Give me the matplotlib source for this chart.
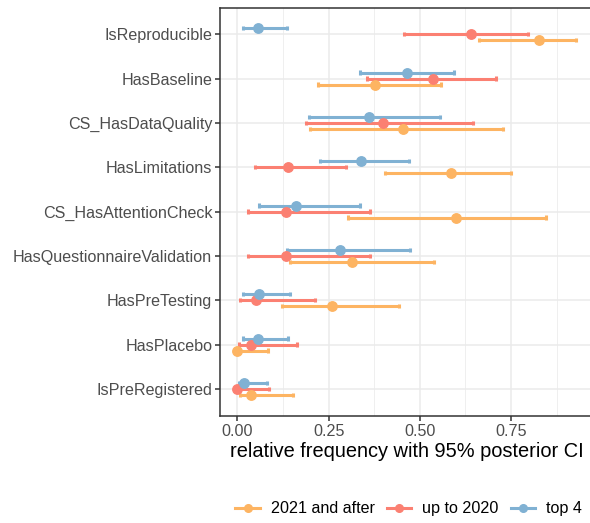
import numpy as np
import matplotlib.pyplot as plt
from matplotlib.lines import Line2D

plt.rcParams['font.family'] = ['Liberation Sans', 'DejaVu Sans']

# Categories listed from bottom to top
features = ['IsPreRegistered', 'HasPlacebo', 'HasPreTesting',
            'HasQuestionnaireValidation', 'CS_HasAttentionCheck',
            'HasLimitations', 'CS_HasDataQuality', 'HasBaseline',
            'IsReproducible']

groups = ['2021 and after', 'up to 2020', 'top 4']
colors = {'2021 and after': '#FDB462', 'up to 2020': '#FB8072', 'top 4': '#80B1D3'}

# posterior mean and 95% interval per feature
late_mean = [0.036, 0.000, 0.260, 0.315, 0.599, 0.585, 0.453, 0.378, 0.826]
late_lo = [0.006, 0.000, 0.123, 0.144, 0.303, 0.405, 0.199, 0.221, 0.661]
late_hi = [0.152, 0.084, 0.443, 0.538, 0.845, 0.749, 0.728, 0.559, 0.929]

early_mean = [0.000, 0.038, 0.050, 0.134, 0.134, 0.139, 0.399, 0.535, 0.641]
early_lo = [0.000, 0.005, 0.006, 0.030, 0.030, 0.049, 0.187, 0.355, 0.458]
early_hi = [0.086, 0.162, 0.213, 0.364, 0.364, 0.297, 0.647, 0.708, 0.798]

top_mean = [0.018, 0.055, 0.058, 0.280, 0.161, 0.340, 0.360, 0.464, 0.055]
top_lo = [0.003, 0.016, 0.016, 0.135, 0.058, 0.226, 0.196, 0.337, 0.016]
top_hi = [0.082, 0.138, 0.144, 0.473, 0.337, 0.470, 0.554, 0.593, 0.137]

series = {
    '2021 and after': (late_mean, late_lo, late_hi),
    'up to 2020': (early_mean, early_lo, early_hi),
    'top 4': (top_mean, top_lo, top_hi),
}
offsets = {'2021 and after': -0.135, 'up to 2020': 0.0, 'top 4': 0.135}

fig = plt.figure(figsize=(5.9, 5.23), dpi=100)
ax = fig.add_axes([0.3737, 0.2055, 0.6324, 0.780])

y = np.arange(1, len(features) + 1)
cap = 0.05

for g in groups:
    m, lo, hi = (np.array(a) for a in series[g])
    yy = y + offsets[g]
    c = colors[g]
    ax.hlines(yy, lo, hi, color=c, lw=2.2, zorder=3)
    ax.vlines(lo, yy - cap, yy + cap, color=c, lw=2.2, zorder=3)
    ax.vlines(hi, yy - cap, yy + cap, color=c, lw=2.2, zorder=3)
    ax.plot(m, yy, 'o', color=c, ms=6.8, zorder=4)

ax.set_xlim(-0.0465, 0.9765)
ax.set_ylim(0.4, len(features) + 0.6)
ax.set_yticks(y)
ax.set_yticklabels(features)
ax.set_xticks([0, 0.25, 0.5, 0.75])
ax.set_xticklabels(['0.00', '0.25', '0.50', '0.75'])
ax.set_xticks([0.125, 0.375, 0.625, 0.875], minor=True)

ax.grid(True, which='major', color='#EBEBEB', lw=1.1, zorder=0)
ax.grid(True, which='minor', axis='x', color='#EBEBEB', lw=0.55, zorder=0)
ax.set_axisbelow(True)
for s in ax.spines.values():
    s.set_color('#333333')
    s.set_linewidth(1.1)
ax.tick_params(which='major', length=3.5, width=1.1, color='#333333',
               labelcolor='#4D4D4D', labelsize=11.6, pad=2.5)
ax.tick_params(which='minor', length=0)

ax.set_xlabel('relative frequency with 95% posterior CI', fontsize=14.4,
              color='black', labelpad=2)

handles = [Line2D([0], [0], color=colors[g], lw=2.2, marker='o', ms=5.5)
           for g in groups]
fig.legend(handles, groups, loc='center', bbox_to_anchor=(0.693, 0.027),
           ncol=3, frameon=False, fontsize=11.6, handlelength=1.5,
           columnspacing=0.75, handletextpad=0.7, borderpad=0.2)

fig.savefig('out.png', dpi=100)
